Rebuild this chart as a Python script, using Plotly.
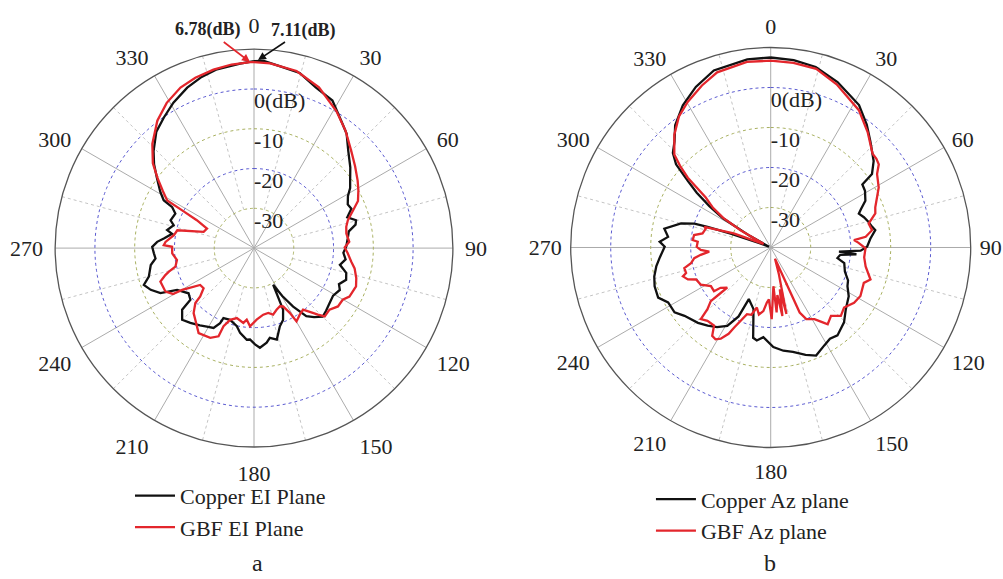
import plotly.graph_objects as go

# ---------------- data (dB vs angle in degrees) ----------------
# panel a : Elevation plane
th_a_cu = [0, 3, 8, 14.6, 21, 28, 35.6, 39, 44, 50, 55, 58, 61, 65, 68, 71.7, 74.7, 77, 80, 84, 89, 93, 97, 101, 105, 109, 113, 116, 121, 126, 131, 135, 139, 142.5, 146.2, 149.5, 152.4, 154.7, 158, 161.7, 166, 170, 172.4, 176.6, 179.4, 182.5, 184.5, 189.3, 192.4, 198.4, 203.6, 204.3, 206.9, 211, 215, 220.4, 225.1, 229.4, 230.9, 235.4, 241.5, 244.3, 248, 251.5, 254.8, 260.7, 264, 267, 270.7, 273.7, 276.1, 279.9, 281.7, 285.9, 288.4, 293.7, 296.6, 297.9, 301, 306, 310, 314, 320, 325.4, 331, 337.4, 343, 348.3, 355.7, 360]
r_a_cu = [7.0, 7.11, 6.2, 5.5, 3.3, 2.0, -1.7, -3.0, -5.9, -8.4, -10.5, -11.5, -13.0, -14.0, -13.6, -15.3, -13.4, -13.8, -15.8, -16.3, -16.8, -17.5, -16.8, -18.0, -16.0, -15.5, -16.8, -16.0, -16.8, -16.5, -16.0, -15.6, -17.0, -18.4, -22.3, -26.0, -29.6, -22.9, -20.5, -19.3, -16.3, -17.1, -16.0, -14.9, -15.8, -17.0, -16.9, -18.4, -19.9, -21.0, -20.8, -19.3, -17.5, -17.0, -16.3, -15.3, -14.5, -16.2, -19.4, -20.0, -18.0, -13.9, -12.0, -10.8, -12.6, -13.7, -15.1, -14.8, -14.4, -15.6, -17.2, -19.1, -17.7, -19.0, -17.9, -18.4, -17.0, -14.3, -12.5, -9.8, -7.2, -4.9, -1.8, -0.1, 1.8, 3.7, 5.0, 5.9, 6.5, 7.0]

th_a_gbf = [0, 5, 13.5, 22, 31, 38, 44.9, 51, 56.9, 61, 65.6, 70, 73.5, 77, 81, 86.2, 89.6, 93.2, 98, 101.4, 106.4, 110.6, 116.9, 120.2, 124.8, 129.2, 134, 136.2, 137.8, 141.5, 145.5, 149.9, 151.1, 153.5, 156, 159.9, 164, 167.6, 172.1, 177.9, 182.9, 185.8, 188.1, 193.8, 198.4, 201.3, 201.9, 206, 213.1, 219.3, 222.9, 226.9, 228, 231.5, 235.6, 239.8, 240.5, 243.8, 250.3, 253.1, 254.5, 256.7, 261.2, 266.3, 270.9, 271.9, 274, 279.2, 283.1, 287.8, 292.6, 296, 297.7, 298.8, 302, 306, 310, 315.7, 322.8, 329, 335.4, 341, 347.2, 353, 358.8, 360]
r_a_gbf = [6.75, 6.6, 5.8, 3.6, 0.2, -2.6, -5.4, -7.3, -8.9, -10.0, -11.3, -13.8, -15.4, -16.2, -16.5, -16.0, -17.2, -16.4, -15.3, -14.2, -13.2, -12.6, -13.1, -14.2, -14.3, -15.5, -15.3, -16.8, -18.0, -20.2, -19.7, -18.7, -21.4, -23.6, -24.0, -23.5, -22.6, -23.3, -23.1, -22.0, -20.3, -21.9, -21.0, -21.9, -21.0, -18.9, -16.1, -14.9, -14.5, -16.7, -17.7, -19.8, -21.8, -23.8, -23.6, -19.1, -16.6, -15.2, -15.0, -16.7, -17.8, -19.7, -20.4, -19.4, -19.4, -17.3, -17.7, -19.6, -20.2, -26.7, -27.2, -24.0, -19.6, -15.1, -13.0, -10.0, -6.8, -3.4, 0.2, 2.6, 4.4, 5.3, 6.0, 6.5, 6.78, 6.75]

# panel b : Azimuth plane
th_b_cu = [0, 7, 14, 22, 31.8, 38, 43.2, 50, 54, 55.5, 59, 63.7, 67, 69, 72, 75, 78.5, 80.6, 85, 89.5, 92, 93.5, 94.5, 96, 99, 102, 108, 113, 116.8, 122, 129.4, 135.6, 142.8, 147, 151.3, 157.2, 162, 168, 173, 178.5, 184.7, 188.5, 191, 195.6, 203, 205, 209, 214, 218.9, 224, 231.6, 236, 241.8, 246, 251.5, 256, 260.6, 265, 270.4, 273, 275.9, 280, 285, 287.4, 288, 289.2, 291.4, 295, 299, 301.5, 304, 306.5, 308.8, 311.3, 314, 317.8, 322, 328.3, 335, 342.2, 352.9, 360]
r_b_cu = [7.5, 7.2, 6.5, 4.6, 1.9, -1.0, -3.6, -6.4, -8.7, -12.2, -12.5, -13.6, -15.5, -16.4, -15.5, -14.8, -14.1, -13.5, -15.0, -15.9, -17.5, -22.9, -18.5, -22.5, -23.1, -21.2, -20.5, -19.0, -18.5, -17.0, -15.7, -13.8, -12.4, -12.8, -12.1, -10.7, -11.8, -13.3, -14.0, -15.1, -17.5, -16.5, -17.0, -24.0, -26.0, -21.0, -17.6, -16.0, -14.9, -13.8, -12.5, -11.0, -10.9, -9.2, -9.4, -10.0, -11.0, -12.2, -13.5, -12.2, -14.2, -13.0, -16.8, -20.0, -23.4, -29.4, -37.0, -39.5, -34.0, -26.0, -21.5, -17.0, -13.4, -8.5, -6.0, -4.2, -1.2, 1.8, 4.3, 6.5, 7.4, 7.5]

th_b_gbf = [0, 7, 14.3, 22, 32.7, 40, 47.4, 50, 52.4, 55.4, 60.9, 64.7, 69, 72, 76.3, 80.3, 83.6, 84.9, 87, 90.5, 96, 101.3, 107.8, 110.8, 118.4, 123.5, 129.3, 134.3, 138.6, 143.4, 145.2, 148.6, 153.6, 156, 159, 163, 166.7, 167.7, 170.3, 172, 174.8, 176, 179.2, 182, 184, 186.6, 190, 193, 196, 199.6, 204.5, 206, 208.7, 211, 213.5, 216, 220.8, 224.3, 225.7, 228.2, 227.8, 227.2, 231.2, 232.4, 237.1, 242.1, 246.8, 248.9, 251.8, 253.2, 256.6, 258.9, 262, 264, 266.1, 268, 270.5, 274.5, 275.4, 279.2, 281.6, 286.3, 287.2, 290.8, 294, 297, 299.7, 302, 304.5, 307.6, 310.1, 312, 314, 319.5, 325, 330.3, 337, 343, 352.7, 360]
r_b_gbf = [6.7, 6.5, 6.1, 4.0, 0.8, -2.3, -5.4, -5.5, -5.9, -7.7, -9.1, -10.6, -12.0, -12.5, -14.8, -14.3, -16.1, -19.1, -18.0, -16.3, -16.5, -15.8, -13.8, -15.1, -14.5, -15.0, -16.3, -15.5, -17.2, -16.1, -17.2, -19.0, -20.0, -22.2, -37.0, -33.0, -22.9, -29.3, -22.6, -28.0, -23.7, -30.3, -22.1, -27.0, -26.2, -24.0, -23.0, -24.6, -22.5, -22.3, -18.0, -16.0, -14.0, -13.2, -13.5, -15.9, -15.8, -15.0, -17.9, -19.9, -22.5, -25.2, -23.9, -22.1, -22.2, -20.2, -19.7, -17.8, -16.9, -17.9, -17.8, -19.7, -20.7, -22.4, -24.6, -22.5, -21.5, -21.7, -20.4, -20.6, -22.6, -23.1, -22.6, -30.1, -37.0, -38.0, -31.3, -26.0, -22.5, -19.5, -12.9, -9.5, -6.5, -2.9, 0.0, 1.9, 4.0, 5.8, 6.8, 6.7]

# axes / labels
r_range = [-40, 10]
ring_levels = [-30, -20, -10, 0]
ring_colors = ["#a8b060", "#5a5ad0", "#a8b060", "#5a5ad0"]
ring_labels = ["-30", "-20", "-10", "0(dB)"]
angle_ticks = list(range(0, 360, 30))
angle_labels = [str(a) for a in angle_ticks]
minor_spokes = list(range(15, 360, 30))

SERIF = "Liberation Serif, Times New Roman, serif"
BLACK = "#111111"
RED = "#e3262c"

fig = go.Figure()


def add_grid(sub):
    # dotted concentric rings
    circ = [i for i in range(0, 361, 2)]
    for lev, col in zip(ring_levels, ring_colors):
        fig.add_trace(go.Scatterpolar(
            theta=circ, r=[lev] * len(circ), mode="lines",
            line=dict(color=col, width=1, dash="dot"),
            showlegend=False, hoverinfo="skip", subplot=sub))
    # dotted intermediate spokes
    th, rr = [], []
    for a in minor_spokes:
        th += [a, a, None]
        rr += [-30, r_range[1], None]
    fig.add_trace(go.Scatterpolar(
        theta=th, r=rr, mode="lines",
        line=dict(color="#c4c4c4", width=1, dash="dot"),
        showlegend=False, hoverinfo="skip", subplot=sub))
    # radial level labels
    fig.add_trace(go.Scatterpolar(
        theta=[0] * len(ring_levels), r=[lv - 3.5 for lv in ring_levels],
        mode="text", text=ring_labels, textposition="middle right",
        textfont=dict(family=SERIF, size=22, color="#222"),
        showlegend=False, hoverinfo="skip", subplot=sub))


add_grid("polar")
add_grid("polar2")

fig.add_trace(go.Scatterpolar(theta=th_a_cu, r=r_a_cu, mode="lines", name="Copper EI Plane",
                              line=dict(color=BLACK, width=2.3), subplot="polar", legend="legend"))
fig.add_trace(go.Scatterpolar(theta=th_a_gbf, r=r_a_gbf, mode="lines", name="GBF EI Plane",
                              line=dict(color=RED, width=2.3), subplot="polar", legend="legend"))
fig.add_trace(go.Scatterpolar(theta=th_b_cu, r=r_b_cu, mode="lines", name="Copper Az plane",
                              line=dict(color=BLACK, width=2.3), subplot="polar2", legend="legend2"))
fig.add_trace(go.Scatterpolar(theta=th_b_gbf, r=r_b_gbf, mode="lines", name="GBF Az plane",
                              line=dict(color=RED, width=2.3), subplot="polar2", legend="legend2"))


def polar_cfg(dx, dy, tlen):
    return dict(
        domain=dict(x=dx, y=dy),
        bgcolor="white",
        angularaxis=dict(direction="clockwise", rotation=90,
                         tickmode="array", tickvals=angle_ticks, ticktext=angle_labels,
                         showgrid=True, gridcolor="#ababab", gridwidth=1,
                         showline=True, linecolor="#555555", linewidth=1.3,
                         ticks="outside", ticklen=tlen, tickcolor="rgba(0,0,0,0)",
                         tickfont=dict(family=SERIF, size=22, color="#222")),
        radialaxis=dict(range=r_range, showticklabels=False, ticks="",
                        showgrid=False, showline=False, angle=90),
    )


legend_common = dict(font=dict(family=SERIF, size=22, color="#222"),
                     bgcolor="rgba(0,0,0,0)", xanchor="left", yanchor="top",
                     tracegroupgap=0, itemwidth=40)

fig.update_layout(
    width=1003, height=579,
    margin=dict(l=0, r=0, t=0, b=0),
    paper_bgcolor="white",
    showlegend=True,
    polar=polar_cfg([0.0548, 0.4517], [0.228, 0.915], 7),
    polar2=polar_cfg([0.569, 0.9678], [0.2271, 0.918], 4),
    legend=dict(x=0.1296, y=0.180, **legend_common),
    legend2=dict(x=0.649, y=0.174, **legend_common),
    annotations=[
        dict(text="a", x=257 / 1003, y=(579 - 563) / 579, xref="paper", yref="paper",
             xanchor="center", yanchor="middle", showarrow=False,
             font=dict(family=SERIF, size=24, color="#222")),
        dict(text="b", x=770 / 1003, y=(579 - 563) / 579, xref="paper", yref="paper",
             xanchor="center", yanchor="middle", showarrow=False,
             font=dict(family=SERIF, size=24, color="#222")),
        dict(text="<b>6.78(dB)</b>", x=250 / 1003, y=(579 - 62) / 579, xref="paper", yref="paper",
             ax=-42, ay=-32, showarrow=True, arrowhead=2, arrowsize=1, arrowwidth=1.6,
             arrowcolor=RED, font=dict(family=SERIF, size=18, color="#222")),
        dict(text="<b>7.11(dB)</b>", x=258 / 1003, y=(579 - 60) / 579, xref="paper", yref="paper",
             ax=45, ay=-30, showarrow=True, arrowhead=2, arrowsize=1, arrowwidth=1.6,
             arrowcolor=BLACK, font=dict(family=SERIF, size=18, color="#222")),
    ],
)

fig.write_html("out.html", config={"displayModeBar": False},
               post_script="document.body.style.margin='0';")
